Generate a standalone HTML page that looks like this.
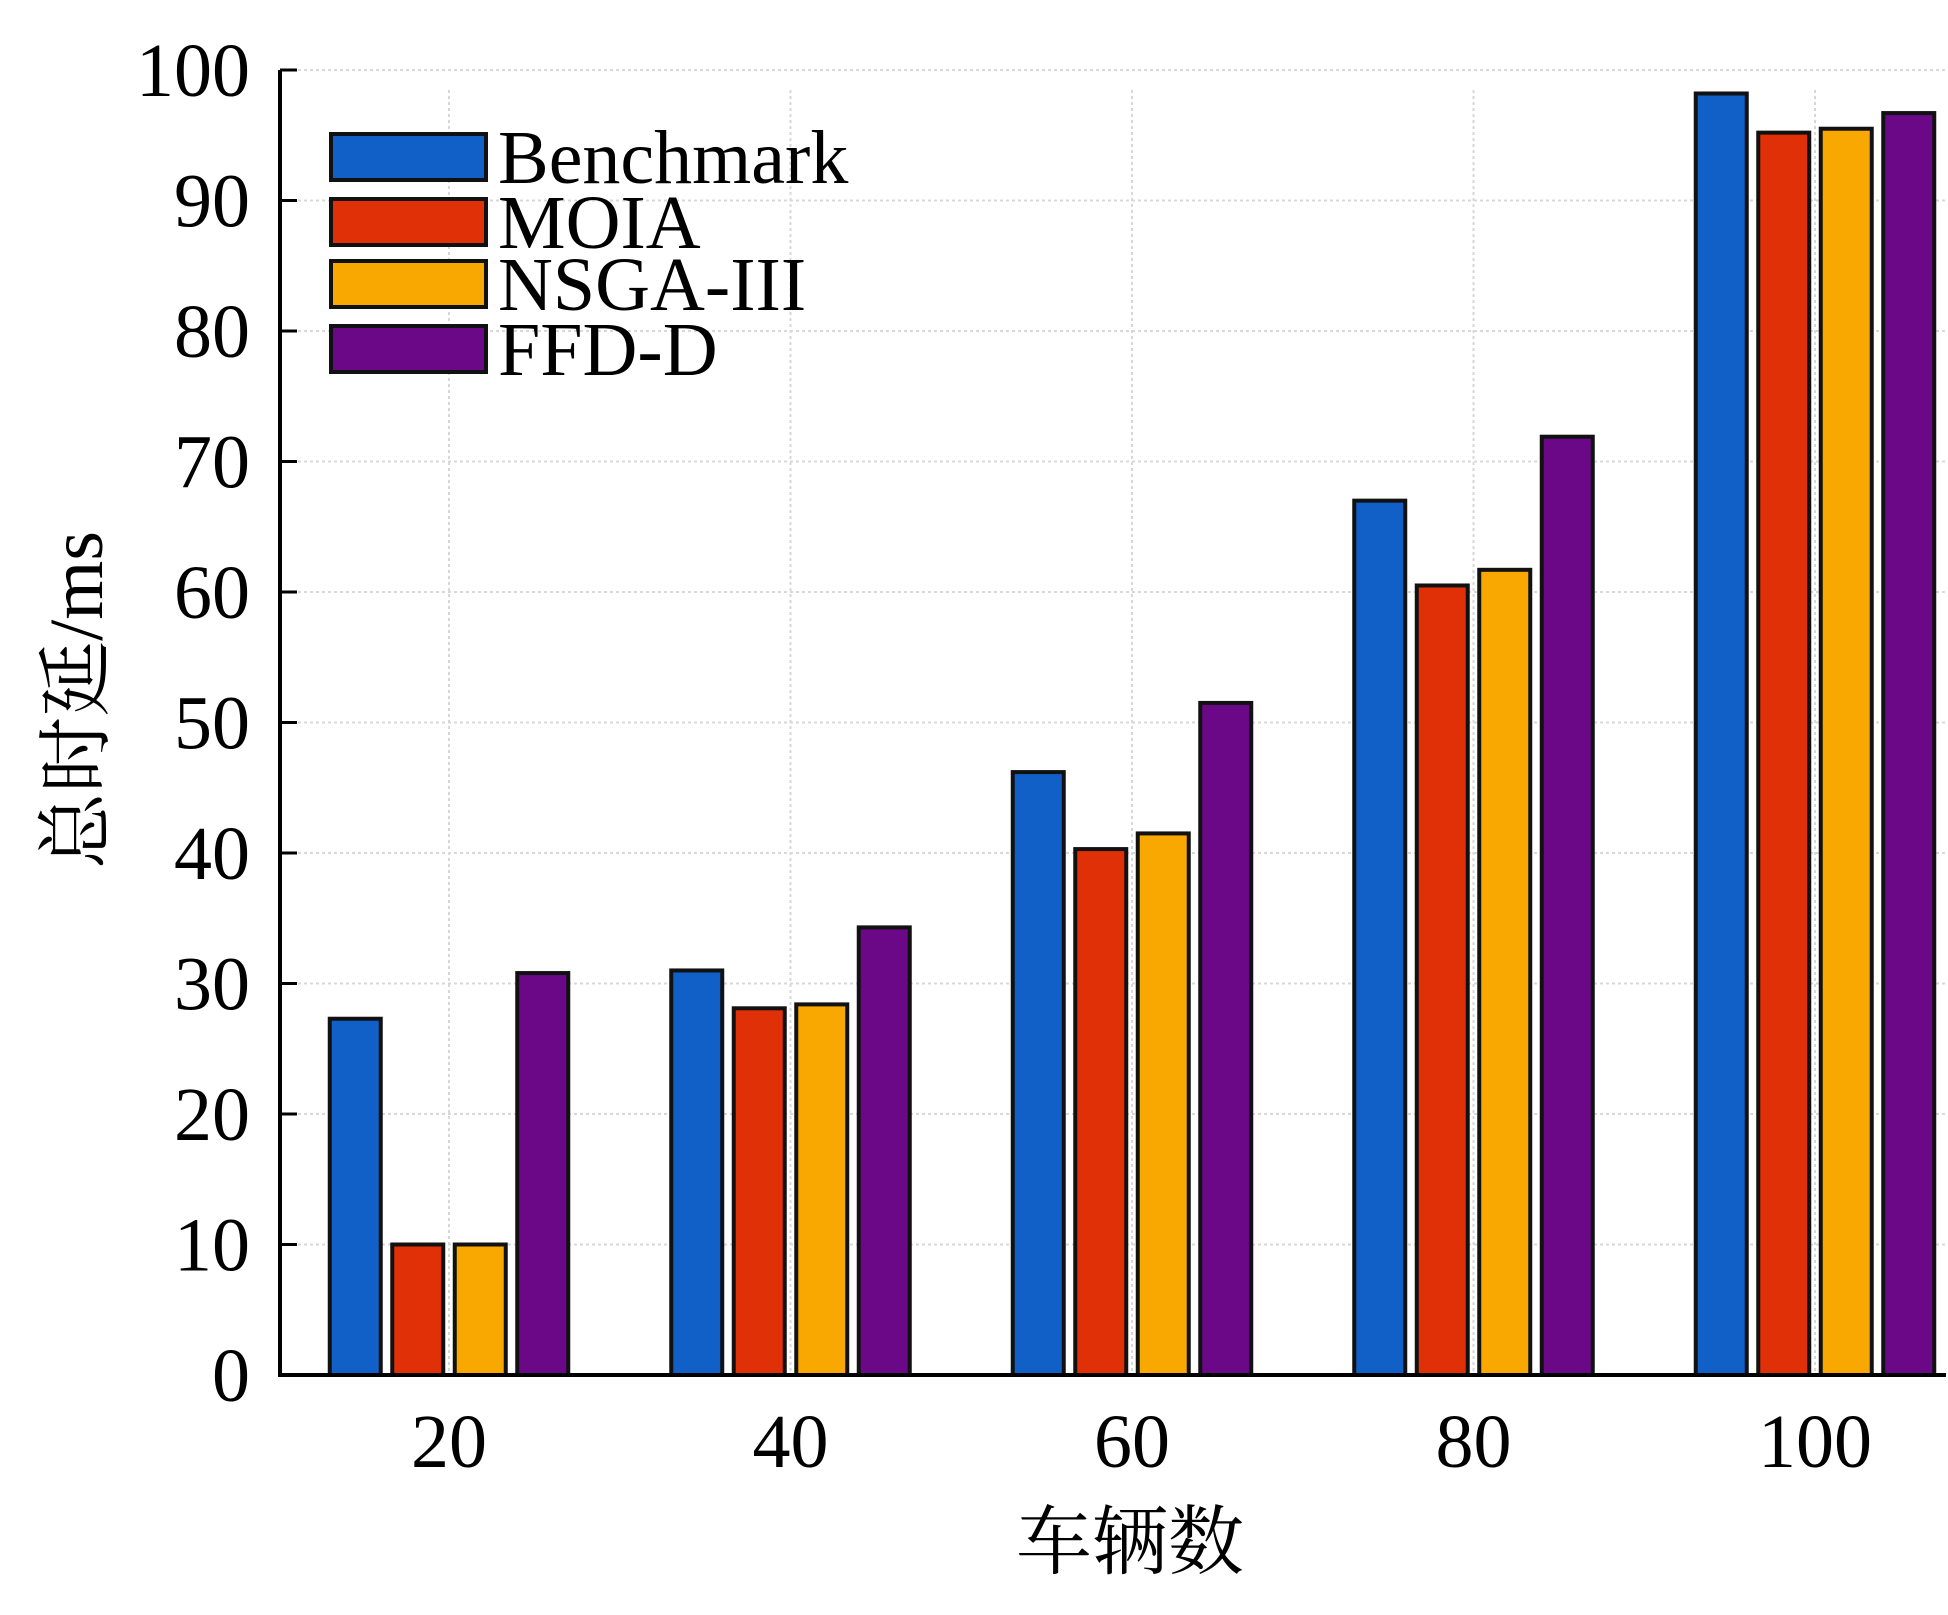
<!DOCTYPE html>
<html><head><meta charset="utf-8"><style>
html,body{margin:0;padding:0;background:#fff;}
svg{display:block;}
text{font-family:"Liberation Serif","Noto Serif CJK SC",serif;fill:#000;}
</style></head><body>
<svg id="chart" width="1948" height="1615" viewBox="0 0 1948 1615" xmlns="http://www.w3.org/2000/svg">
<g id="grid"></g>
<g id="bars"></g>
<g id="axes"></g>
<g id="legend"></g>
<text x="1130" y="1568" font-size="76" text-anchor="middle">车辆数</text>
<text x="0" y="0" font-size="76" text-anchor="middle" transform="translate(102,700) rotate(-90)">总时延/ms</text>
</svg>
<script>
const categories = ["20","40","60","80","100"];
const seriesNames = ["Benchmark","MOIA","NSGA-III","FFD-D"];
const benchmark = [27.3, 31.0, 46.2, 67.0, 98.2];
const moia = [10.0, 28.1, 40.3, 60.5, 95.2];
const nsga3 = [10.0, 28.4, 41.5, 61.7, 95.5];
const ffdd = [30.8, 34.3, 51.5, 71.9, 96.7];
const yTicks = [0,10,20,30,40,50,60,70,80,90,100];

const colors = ["#1060c8","#e03008","#f8a800","#6a0888"];
const series = [benchmark, moia, nsga3, ffdd];
const NS = "http://www.w3.org/2000/svg";
const x0 = 280, x1 = 1946, yBase = 1375, yTop = 70;
const yScale = v => yBase - (v / 100) * (yBase - yTop);
const catX = i => 449 + i * 341.5;
const pitch = 62.5, bw = 51;

function mk(tag, attrs, parent){
  const el = document.createElementNS(NS, tag);
  for (const k in attrs) el.setAttribute(k, attrs[k]);
  parent.appendChild(el);
  return el;
}
const grid = document.getElementById('grid');
const bars = document.getElementById('bars');
const axes = document.getElementById('axes');
const legend = document.getElementById('legend');

yTicks.forEach(t => {
  if (t > 0) {
    const g = mk('line', {x1:x0, x2:x1, y1:yScale(t), y2:yScale(t), stroke:'#d8d8d8', 'stroke-width':2, 'stroke-dasharray':'3,3'}, grid);
    
    
  }
  const tk = mk('line', {x1:x0, x2:x0+17, y1:yScale(t), y2:yScale(t), stroke:'#000', 'stroke-width':3}, axes);
  
  
  const lb = mk('text', {x:250, y:yScale(t)+26, 'font-size':76, 'text-anchor':'end'}, axes);
  lb.textContent = t;
  
  
});
categories.forEach((c, i) => {
  const g = mk('line', {x1:catX(i), x2:catX(i), y1:yTop+20, y2:yBase, stroke:'#d8d8d8', 'stroke-width':2, 'stroke-dasharray':'3,3'}, grid);
  
  
  const lb = mk('text', {x:catX(i), y:1467, 'font-size':76, 'text-anchor':'middle'}, axes);
  lb.textContent = c;
  
  
  series.forEach((s, j) => {
    const bx = catX(i) + (j - 1.5) * pitch - bw / 2;
    const r = mk('rect', {x:bx, y:yScale(s[i]), width:bw, height:yBase - yScale(s[i]), fill:colors[j], stroke:'#111', 'stroke-width':4}, bars);
    
    
  });
});
const yAxis = mk('line', {x1:x0, x2:x0, y1:yTop, y2:yBase+2, stroke:'#000', 'stroke-width':4}, axes);


const xAxis = mk('line', {x1:x0-2, x2:x1, y1:yBase, y2:yBase, stroke:'#000', 'stroke-width':4}, axes);



const legY = [157, 222, 284, 349];
seriesNames.forEach((n, j) => {
  const r = mk('rect', {x:331, y:legY[j]-23, width:155, height:46, fill:colors[j], stroke:'#111', 'stroke-width':4}, legend);
  
  
  const t = mk('text', {x:498, y:legY[j]+26, 'font-size':76}, legend);
  t.textContent = n;
  
  
});
</script>
</body></html>
